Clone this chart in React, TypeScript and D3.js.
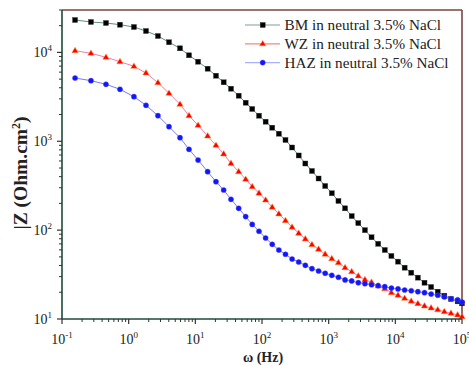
import React from "react";
import * as d3 from "d3";

const freq = [0.157, 0.272, 0.457, 0.741, 1.2, 1.82, 2.75, 4.03, 5.89, 8.04, 11.0, 15.3, 20.4, 26.6, 34.3, 44.7, 56.9, 71.4,
  90.2, 113.3, 142.4, 179.0, 225.0, 282.8, 355.4, 446.8, 561.6, 705.9, 887.2, 1115, 1402, 1762, 2215, 2783, 3499, 4397,
  5527, 6946, 8730, 10973, 13792, 17335, 21788, 27384, 34420, 43262, 54375, 68343, 85901, 100000];

const bmZ = [23150, 21990, 21420, 20500, 19310, 17410, 15290, 13000, 11120, 9276, 7861, 6556, 5468, 4609, 3905, 3257, 2716,
  2308, 1940, 1661, 1422, 1217, 1034, 851, 692, 562, 463, 381, 314, 260, 213, 176, 144, 120, 99.9, 83.1, 70.2, 59.8, 51.2,
  44.2, 37.8, 33.2, 29.2, 25.6, 22.9, 20.3, 18.3, 16.8, 15.8, 15.0];

const wzZ = [10450, 9770, 8810, 7861, 6975, 5864, 4561, 3466, 2606, 1940, 1512, 1146, 900, 719, 562, 455, 373, 308, 260, 218,
  181, 152, 128, 108, 92.2, 79.5, 68.6, 60.9, 53.5, 47.7, 43.0, 37.8, 34.1, 30.5, 27.7, 25.9, 23.5, 21.9, 19.8, 18.5, 17.1,
  15.9, 14.9, 14.0, 13.3, 12.7, 12.1, 11.6, 11.1, 10.6];

const hazZ = [5152, 4804, 4377, 3843, 3174, 2540, 1940, 1459, 1097, 812, 615, 455, 351, 283, 222, 176, 142, 116, 97.1, 81.6,
  69.3, 59.8, 53.5, 47.3, 43.8, 40.2, 36.8, 34.7, 32.7, 31.0, 29.5, 27.5, 26.8, 25.6, 25.0, 24.3, 23.7, 23.1, 22.3, 21.8,
  21.2, 20.8, 20.3, 19.8, 19.1, 18.5, 17.7, 16.9, 16.4, 15.5];

const seriesNames = ["BM in neutral 3.5% NaCl", "WZ in neutral 3.5% NaCl", "HAZ in neutral 3.5% NaCl"];
const xTickExps = [-1, 0, 1, 2, 3, 4, 5];
const yTickExps = [1, 2, 3, 4];

const W = 469, H = 366;
const L = 62, R = 462, T = 10, B = 319;
const FONT = "'Liberation Serif', 'Times New Roman', serif";

export default function App() {
  const x = d3.scaleLog().domain([0.1, 1e5]).range([L, R]);
  const y = d3.scaleLog().domain([10, 30000]).range([B, T]);

  const series = [
    { name: seriesNames[0], z: bmZ, line: "#5f8f7a", fill: "#000000", stroke: "#3a3a3a", shape: "square", legendLine: "#7f9f8f" },
    { name: seriesNames[1], z: wzZ, line: "#ee7fa8", fill: "#ff0000", stroke: "#ff9a3a", shape: "triangle", legendLine: "#f4877f" },
    { name: seriesNames[2], z: hazZ, line: "#7a7af0", fill: "#0a1aff", stroke: "#6a3ae8", shape: "circle", legendLine: "#aab0ff" },
  ];

  const lineGen = d3.line<[number, number]>().x((d) => x(d[0])).y((d) => y(d[1]));

  const marker = (shape: string, cx: number, cy: number, fill: string, stroke: string, key: string | number) => {
    if (shape === "square") {
      return <rect key={key} x={cx - 2.5} y={cy - 2.5} width={5} height={5} fill={fill} stroke={stroke} strokeWidth={0.4} />;
    }
    if (shape === "triangle") {
      const s = 3.4;
      const pts = `${cx},${cy - s} ${cx - s * 0.95},${cy + s * 0.6} ${cx + s * 0.95},${cy + s * 0.6}`;
      return <polygon key={key} points={pts} fill={fill} stroke={stroke} strokeWidth={0.5} />;
    }
    return <circle key={key} cx={cx} cy={cy} r={2.6} fill={fill} stroke={stroke} strokeWidth={0.4} />;
  };

  const xMinor: number[] = [];
  for (let e = -1; e < 5; e++) for (let m = 2; m <= 9; m++) xMinor.push(m * Math.pow(10, e));
  const yMinor: number[] = [];
  for (let e = 1; e < 5; e++) for (let m = 2; m <= 9; m++) { const v = m * Math.pow(10, e); if (v <= 30000) yMinor.push(v); }

  const axisCol = "#1f4a3a";
  const frameCol = "#7a4540";
  const tickCol = "#3a3030";

  return (
    <svg width={W} height={H} style={{ position: "absolute", left: 0, top: 0, background: "#fff" }} fontFamily={FONT}>
      <rect x={0} y={0} width={W} height={H} fill="#ffffff" />
      <line x1={L} y1={T} x2={R} y2={T} stroke={frameCol} strokeWidth={1.6} />
      <line x1={R} y1={T} x2={R} y2={B} stroke={frameCol} strokeWidth={1.6} />

      {series.map((s, si) => {
        const pts: [number, number][] = freq.map((f, i) => [f, s.z[i]]);
        return (
          <g key={si}>
            <path d={lineGen(pts) || ""} fill="none" stroke={s.line} strokeWidth={1} />
            {pts.map((p, i) => marker(s.shape, x(p[0]), y(p[1]), s.fill, s.stroke, i))}
          </g>
        );
      })}

      <line x1={L} y1={T} x2={L} y2={B} stroke={axisCol} strokeWidth={1.6} />
      <line x1={L} y1={B} x2={R} y2={B} stroke={axisCol} strokeWidth={1.6} />

      {xMinor.map((v, i) => (
        <line key={"xm" + i} x1={x(v)} x2={x(v)} y1={B} y2={B + 3} stroke={tickCol} strokeWidth={1} />
      ))}
      {xTickExps.map((e) => (
        <line key={"xM" + e} x1={x(Math.pow(10, e))} x2={x(Math.pow(10, e))} y1={B} y2={B + 5} stroke={tickCol} strokeWidth={1.2} />
      ))}
      {yMinor.map((v, i) => (
        <line key={"ym" + i} x1={L - 3} x2={L} y1={y(v)} y2={y(v)} stroke={tickCol} strokeWidth={1} />
      ))}
      {yTickExps.map((e) => (
        <line key={"yM" + e} x1={L - 5} x2={L} y1={y(Math.pow(10, e))} y2={y(Math.pow(10, e))} stroke={tickCol} strokeWidth={1.2} />
      ))}

      {xTickExps.map((e) => (
        <text key={"xl" + e} x={x(Math.pow(10, e))} y={344} textAnchor="middle" fontSize={14} fill="#222">
          10<tspan dy={-6} fontSize={9}>{String(e)}</tspan>
        </text>
      ))}
      {yTickExps.map((e) => (
        <text key={"yl" + e} x={52} y={y(Math.pow(10, e)) + 5} textAnchor="end" fontSize={14} fill="#222">
          10<tspan dy={-6} fontSize={9}>{e}</tspan>
        </text>
      ))}

      <text x={263} y={362} textAnchor="middle" fontSize={14} fontWeight="bold" fill="#222">ω (Hz)</text>
      <text transform={`translate(27,173) rotate(-90)`} textAnchor="middle" fontSize={19.5} fontWeight="bold" fill="#222">
        |Z (Ohm.cm<tspan dy={-7} fontSize={12}>2</tspan><tspan dy={7}>)</tspan>
      </text>

      {series.map((s, i) => {
        const ly = 25 + i * 18.8;
        return (
          <g key={"lg" + i}>
            <line x1={245} x2={280} y1={ly} y2={ly} stroke={s.legendLine} strokeWidth={1.2} />
            {marker(s.shape, 262.7, ly, s.fill, s.stroke, "m")}
            <text x={284.5} y={ly + 5} fontSize={15.2} fill="#222">{s.name}</text>
          </g>
        );
      })}
    </svg>
  );
}
